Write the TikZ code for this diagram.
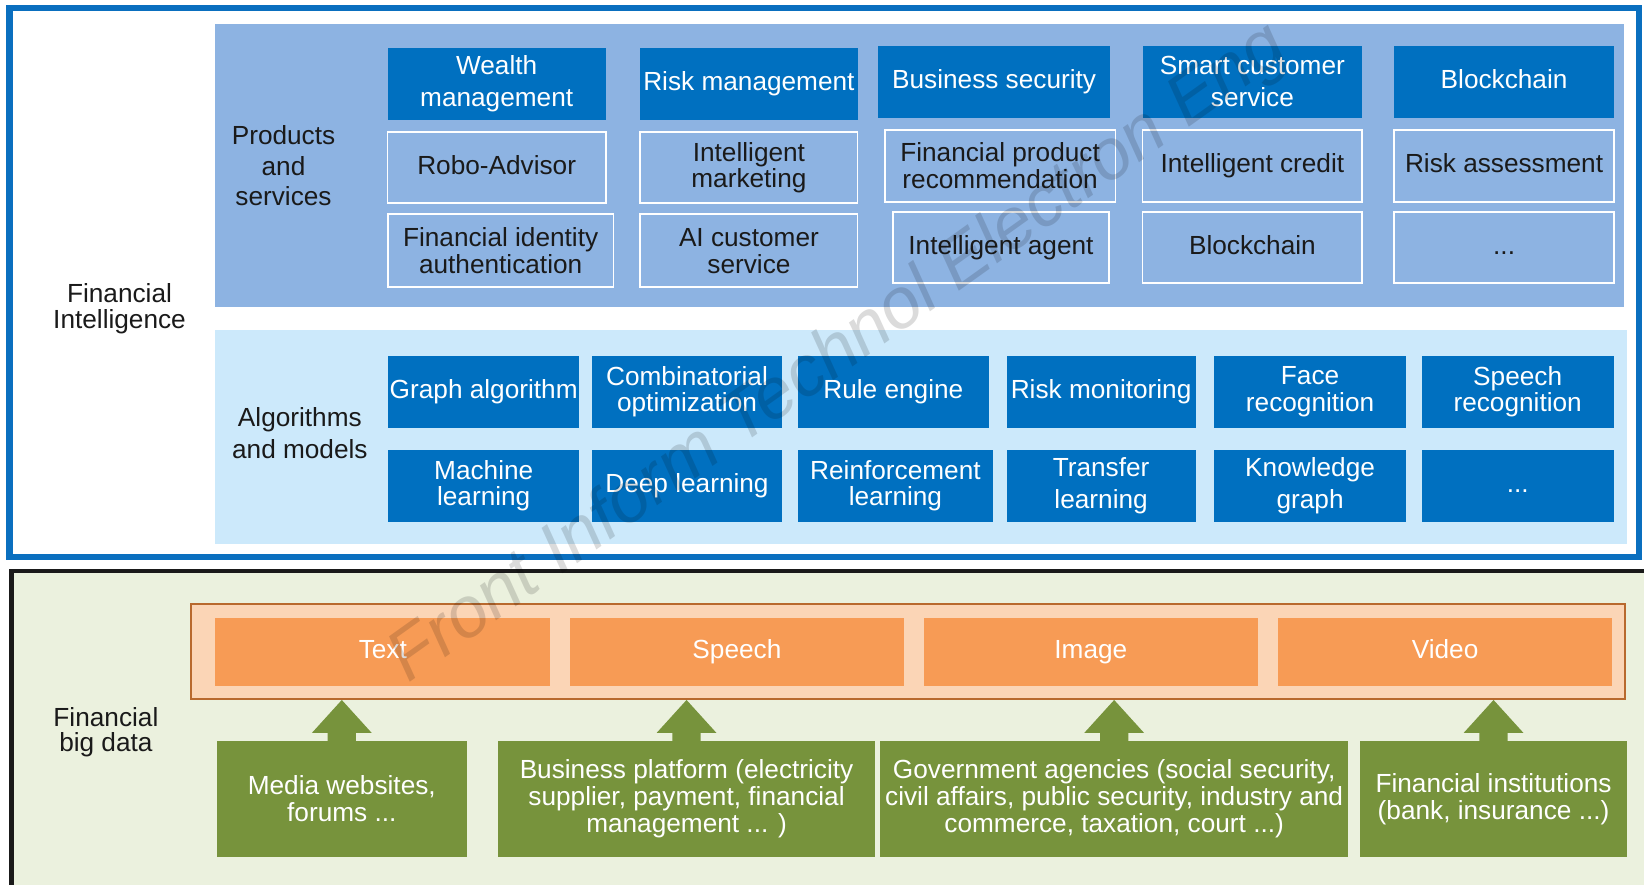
\documentclass[tikz,border=0pt]{standalone}
\usepackage{fontspec}
\setmainfont{Liberation Sans}
\usetikzlibrary{calc}

\definecolor{frameblue}{HTML}{0A6FBF}
\definecolor{boxblue}{HTML}{0070C0}
\definecolor{prodpanel}{HTML}{8DB3E2}
\definecolor{algopanel}{HTML}{CCE9FB}
\definecolor{datapanel}{HTML}{EBF1DE}
\definecolor{peach}{HTML}{FBD5B6}
\definecolor{peachedge}{HTML}{B8692E}
\definecolor{orangefill}{HTML}{F79B55}
\definecolor{leafgreen}{HTML}{77933C}
\definecolor{ink}{HTML}{1A1A1A}

% place a named box by its corners: name, style, x1, y1, x2, y2, text
\newcommand\putbox[7]{%
  \node[#2, minimum width={(#5)-(#3)}, minimum height={(#6)-(#4)}]
    (#1) at ({((#3)+(#5))/2},{((#4)+(#6))/2}) {#7};}

\tikzset{
  cellbase/.style={inner sep=0pt, outer sep=0pt, align=center,
    font=\fontsize{25}{25.5}\selectfont},
  oneline/.style={text height=18.5pt, text depth=5.5pt},
  darkbox/.style={cellbase, fill=boxblue, text=white},
  outlinebox/.style={cellbase, draw=white, line width=1.6pt, text=ink},
  orangebox/.style={cellbase, oneline, fill=orangefill, text=white},
  greenbox/.style={cellbase, fill=leafgreen, text=white},
  sidelabel/.style={cellbase, text=ink},
  loose/.style={font=\fontsize{25}{30.5}\selectfont},
  arrowfill/.style={fill=leafgreen},
}

\begin{document}
\begin{tikzpicture}[x=1pt, y=-1pt]
\useasboundingbox (0,0) rectangle (1568,844);
\fill[white] (0,0) rectangle (1568,844);

% ---------- financial intelligence layer ----------
\putbox{intel}{cellbase, draw=frameblue, line width=6pt}{9}{7.5}{1563}{531}{}
\putbox{prod}{cellbase, fill=prodpanel}{205.5}{22.9}{1549}{293}{}
\putbox{algo}{cellbase, fill=algopanel}{205.5}{314.7}{1551.4}{518.8}{}

\node[sidelabel, font=\fontsize{25}{25}\selectfont] (fi) at (114,294.5) {Financial\\Intelligence};
\node[sidelabel, font=\fontsize{25}{29.5}\selectfont] (ps) at (270.4,158) {Products\\and\\services};
\node[sidelabel, font=\fontsize{25}{31}\selectfont] (am) at (286,413) {Algorithms\\and models};

% products and services: category row
\putbox{w1}{darkbox, loose}{369.6}{45.5}{577.8}{114.4}{Wealth\\management}
\putbox{w2}{darkbox, oneline}{610.6}{45.5}{818}{114.4}{Risk management}
\putbox{w3}{darkbox, oneline}{837.6}{44}{1058.7}{112.2}{Business security}
\putbox{w4}{darkbox, loose}{1089.7}{44}{1299.3}{112.2}{Smart customer\\service}
\putbox{w5}{darkbox, oneline}{1329.8}{44}{1539.3}{112.2}{Blockchain}
% products and services: applications
\putbox{p1}{outlinebox, oneline}{369.6}{126.2}{577.8}{193.9}{Robo-Advisor}
\putbox{p2}{outlinebox}{610.6}{126.2}{818}{193.9}{Intelligent\\marketing}
\putbox{p3}{outlinebox}{843.9}{124}{1063.8}{192.4}{Financial product\\recommendation}
\putbox{p4}{outlinebox, oneline}{1089.7}{124}{1299.3}{192.4}{Intelligent credit}
\putbox{p5}{outlinebox, oneline}{1329.8}{124}{1539.3}{192.4}{Risk assessment}
\putbox{q1}{outlinebox}{370}{204.4}{585}{274}{Financial identity\\authentication}
\putbox{q2}{outlinebox}{610.6}{204.4}{818}{274}{AI customer\\service}
\putbox{q3}{outlinebox, oneline}{851.4}{202.5}{1058}{270.2}{Intelligent agent}
\putbox{q4}{outlinebox, oneline}{1089.7}{202.5}{1299.3}{270.2}{Blockchain}
\putbox{q5}{outlinebox, oneline}{1329.8}{202.5}{1539.3}{270.2}{...}

% algorithms and models
\putbox{a1}{darkbox, oneline}{370}{339.2}{552.7}{407.9}{Graph algorithm}
\putbox{a2}{darkbox}{564.7}{339.2}{745.8}{407.9}{Combinatorial\\optimization}
\putbox{a3}{darkbox, oneline}{760.7}{339.2}{943.4}{407.9}{Rule engine}
\putbox{a4}{darkbox, oneline}{960}{339.2}{1140.4}{407.9}{Risk monitoring}
\putbox{a5}{darkbox}{1158}{339.2}{1341}{407.9}{Face\\recognition}
\putbox{a6}{darkbox}{1356}{339.2}{1539}{407.9}{Speech\\recognition}
\putbox{b1}{darkbox}{370}{429.2}{552.7}{497.5}{Machine\\learning}
\putbox{b2}{darkbox, oneline}{564.7}{429.2}{745.8}{497.5}{Deep learning}
\putbox{b3}{darkbox}{760.7}{429.2}{947.4}{497.5}{Reinforcement\\learning}
\putbox{b4}{darkbox, loose}{960}{429.2}{1140.4}{497.5}{Transfer\\learning}
\putbox{b5}{darkbox, loose}{1158}{429.2}{1341}{497.5}{Knowledge\\graph}
\putbox{b6}{darkbox, oneline}{1356}{429.2}{1539}{497.5}{...}

% ---------- financial big data layer ----------
\putbox{bigdata}{cellbase, fill=datapanel, draw=ink, line width=4pt}{11}{544.5}{1590}{880}{}
\node[sidelabel, font=\fontsize{25}{24}\selectfont] (fb) at (101,698) {Financial\\big data};

\putbox{bar}{cellbase, fill=peach, draw=peachedge, line width=1.8pt}{182}{576.4}{1550}{666.6}{}
\putbox{o1}{orangebox}{205.5}{589.7}{524.7}{654.3}{Text}
\putbox{o2}{orangebox}{543.7}{589.7}{862}{654.3}{Speech}
\putbox{o3}{orangebox}{881.3}{589.7}{1199.5}{654.3}{Image}
\putbox{o4}{orangebox}{1219}{589.7}{1537.6}{654.3}{Video}

\putbox{g1}{greenbox}{207}{707}{445}{817}{Media websites,\\forums ...}
\putbox{g2}{greenbox}{475}{707}{834.6}{817}{Business platform (electricity\\supplier, payment, financial\\management ... )}
\putbox{g3}{greenbox}{839.7}{707}{1285.6}{817}{Government agencies (social security,\\civil affairs, public security, industry and\\commerce, taxation, court ...)}
\putbox{g4}{greenbox}{1297}{707}{1552}{817}{Financial institutions\\(bank, insurance ...)}

% block arrows from each source up to the data bar
\foreach \g in {g1,g2,g3,g4}{
  \fill[arrowfill]
    ($(\g.north)+(-13.5,0.5)$) -- ($(\g.north)+(-13.5,-8)$)
    -- ($(\g.north)+(-28.5,-8)$) -- ($(\g.north |- bar.south)+(0,1)$)
    -- ($(\g.north)+(28.5,-8)$) -- ($(\g.north)+(13.5,-8)$)
    -- ($(\g.north)+(13.5,0.5)$) -- cycle;
}

% journal watermark
\node[text=black, opacity=0.14, rotate=35.5,
      font=\itshape\fontsize{68}{68}\selectfont] (wm) at (800,338)
  {Front Inform Technol Electron Eng};
\end{tikzpicture}
\end{document}
